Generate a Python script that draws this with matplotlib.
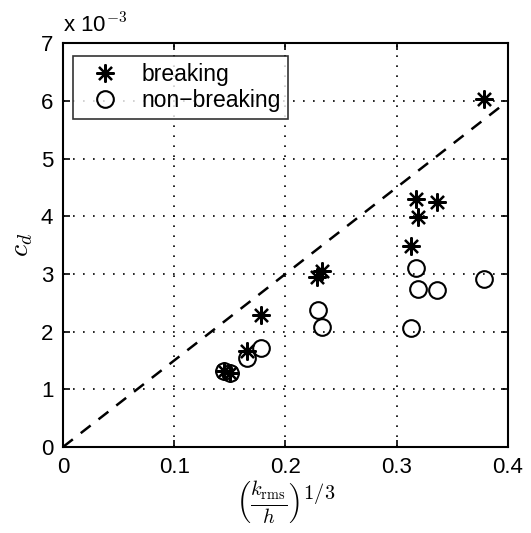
import numpy as np
import matplotlib
matplotlib.use("Agg")
import matplotlib.pyplot as plt

plt.rcParams['font.family'] = ['Liberation Sans', 'DejaVu Sans']
plt.rcParams['mathtext.fontset'] = 'cm'

# breaking waves (c_d in units of 1e-3)
x_break = [0.378, 0.317, 0.336, 0.319, 0.313, 0.228, 0.233, 0.178, 0.165, 0.145, 0.150]
cd_break = [6.03, 4.30, 4.25, 3.99, 3.48, 2.95, 3.05, 2.29, 1.66, 1.31, 1.28]

# non-breaking waves
x_nonbreak = [0.317, 0.319, 0.336, 0.378, 0.313, 0.229, 0.233, 0.178, 0.165, 0.145, 0.150]
cd_nonbreak = [3.10, 2.74, 2.72, 2.91, 2.06, 2.37, 2.08, 1.72, 1.54, 1.31, 1.28]

# reference line c_d = 0.015 * x
line_x = [0.0, 0.4]
line_slope = 15.0

fig = plt.figure(figsize=(5.31, 5.33), dpi=100)
ax = fig.add_axes([0.1186, 0.1614, 0.8381, 0.7576])

ax.plot(line_x, [v * line_slope for v in line_x], color='black', linestyle=(0, (5, 4)), linewidth=1.8)
ax.plot(x_break, cd_break, linestyle='none', marker=(8, 2, 0), markersize=13,
        markeredgewidth=1.6, color='black', label='breaking')
ax.plot(x_nonbreak, cd_nonbreak, linestyle='none', marker='o', markersize=12,
        markerfacecolor='none', markeredgewidth=1.5, markeredgecolor='black', label='non\u2212breaking')

ax.set_xlim(0, 0.4)
ax.set_ylim(0, 7)
ax.set_xticks([0, 0.1, 0.2, 0.3, 0.4])
ax.set_xticklabels(['0', '0.1', '0.2', '0.3', '0.4'])
ax.set_yticks(range(0, 8))
ax.grid(True, linestyle=(0, (1, 5)), color='black', linewidth=1.2)
ax.tick_params(direction='in', top=True, right=True, labelsize=16, length=5, width=1.2, pad=7)
for s in ax.spines.values():
    s.set_linewidth(1.5)

ax.set_xlabel(r'$\left(\frac{k_{\mathrm{rms}}}{h}\right)^{1/3}$', fontsize=21, labelpad=1)
ax.set_ylabel(r'$c_d$', fontsize=20, labelpad=4)
ax.text(0.0, 1.015, r'x 10$^{-3}$', transform=ax.transAxes, fontsize=16, ha='left', va='bottom')

leg = ax.legend(loc='upper left', fontsize=16.5, frameon=True, fancybox=False, edgecolor='black',
                borderpad=0.3, borderaxespad=0, handletextpad=0.5, handlelength=2.2,
                labelspacing=0.15, bbox_to_anchor=(0.022, 0.968))
leg.get_frame().set_linewidth(1.2)

fig.savefig('out.png', dpi=100)
